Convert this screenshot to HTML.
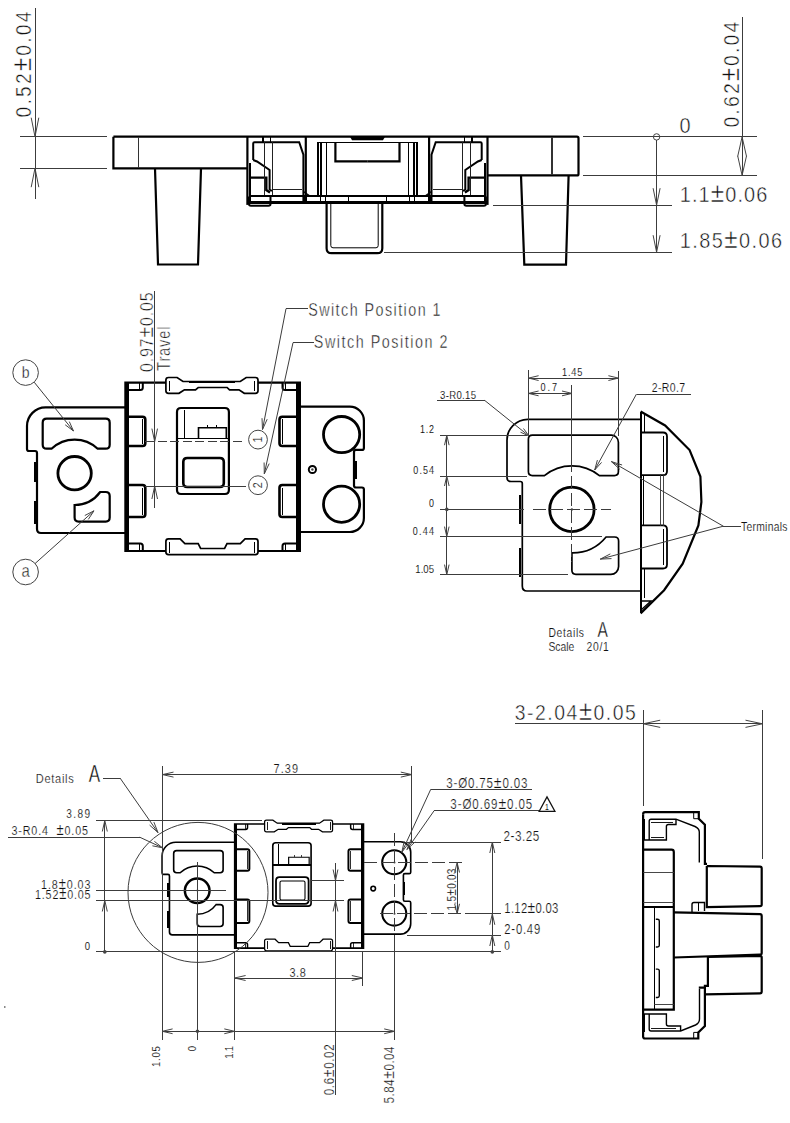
<!DOCTYPE html>
<html><head><meta charset="utf-8"><style>
html,body{margin:0;padding:0;background:#fff;}
svg{display:block;font-family:"Liberation Sans",sans-serif;}

</style></head><body>
<svg width="790" height="1123" viewBox="0 0 790 1123">
<rect width="790" height="1123" fill="#fff"/>
<line x1="35.0" y1="8.0" x2="35.0" y2="199.4" stroke="#3c3c3c" stroke-width="1" fill="none" shape-rendering="crispEdges"/>
<line x1="20.0" y1="136.7" x2="106.8" y2="136.7" stroke="#3c3c3c" stroke-width="1" fill="none" shape-rendering="crispEdges"/>
<line x1="20.0" y1="168.2" x2="106.8" y2="168.2" stroke="#3c3c3c" stroke-width="1" fill="none" shape-rendering="crispEdges"/>
<path d="M31.2,117.7 L35.0,136.7 L38.8,117.7" stroke="#444" stroke-width="1" fill="none"/>
<path d="M38.8,187.2 L35.0,168.2 L31.2,187.2" stroke="#444" stroke-width="1" fill="none"/>
<text transform="translate(31.3,117.5) rotate(-90) scale(0.85,1)" x="0" y="0" font-size="22.6" text-anchor="start" fill="#111" stroke="#fff" stroke-width="0.50" textLength="124.7" lengthAdjust="spacing">0.52<tspan font-size="27.6">±</tspan>0.04</text>
<path d="M113.4,136.7 H577 Q578.5,136.7 578.5,138.2 V173.9 Q578.5,175.4 577,175.4 H487.5" stroke="#000" stroke-width="2.2" fill="none"/>
<path d="M113.4,136.7 V168.4 H247.4" stroke="#000" stroke-width="2.2" fill="none"/>
<line x1="138.5" y1="136.7" x2="138.5" y2="168.4" stroke="#333" stroke-width="1.1" shape-rendering="crispEdges"/>
<line x1="552.0" y1="136.7" x2="552.0" y2="175.4" stroke="#333" stroke-width="1.1" shape-rendering="crispEdges"/>
<path d="M155,168.4 L158,264.5 H198 L201,168.4" stroke="#000" stroke-width="2.2" fill="none"/>
<path d="M521,175.4 L524.3,264.6 H566 L568.6,175.4" stroke="#000" stroke-width="2.2" fill="none"/>
<g>
<path d="M247.4,136.7 V204.9" stroke="#000" stroke-width="2.2" fill="none"/>
<line x1="250.0" y1="163.0" x2="250.0" y2="204.0" stroke="#000" stroke-width="1.4" shape-rendering="crispEdges"/>
<path d="M249,196.6 V204 Q249,205.8 251,205.8 H268.5 Q270.5,205.8 270.5,204 V196" stroke="#000" stroke-width="2" fill="none"/>
<path d="M253.2,160 V143.6 Q253.2,142.3 254.5,142.3 H299.2 L303.4,154.7 V202.4" stroke="#000" stroke-width="2" fill="none"/>
<path d="M253.2,160 L257,161.5 L269.6,170 V189.5 L272,191" stroke="#000" stroke-width="2" fill="none"/>
<path d="M249.9,177.6 H266.3 V190 L270,192.5" stroke="#000" stroke-width="2.4" fill="none"/>
<line x1="264.7" y1="142.3" x2="264.7" y2="195.8" stroke="#222" stroke-width="1" shape-rendering="crispEdges"/>
<line x1="272.0" y1="142.3" x2="272.0" y2="195.8" stroke="#222" stroke-width="1" shape-rendering="crispEdges"/>
<line x1="272.0" y1="189.2" x2="302.0" y2="189.2" stroke="#222" stroke-width="1" shape-rendering="crispEdges"/>
<path d="M305.8,137 V202.4" stroke="#000" stroke-width="2.2" fill="none"/>
<path d="M303.4,191.5 L309.5,195.8" stroke="#000" stroke-width="1.4" fill="none"/>
<line x1="318.2" y1="142.3" x2="318.2" y2="195.8" stroke="#000" stroke-width="1.8" shape-rendering="crispEdges"/>
<line x1="320.9" y1="142.3" x2="320.9" y2="195.8" stroke="#000" stroke-width="1.8" shape-rendering="crispEdges"/>
<line x1="326.4" y1="142.3" x2="326.4" y2="195.8" stroke="#000" stroke-width="1.8" shape-rendering="crispEdges"/>
<line x1="318.0" y1="142.3" x2="367.5" y2="142.3" stroke="#000" stroke-width="1.6" shape-rendering="crispEdges"/>
<path d="M335.4,142.3 V161.3 H367.5" stroke="#000" stroke-width="2.2" fill="none"/>
<line x1="250.0" y1="195.8" x2="250.0" y2="202.4" stroke="#000" stroke-width="1.2" shape-rendering="crispEdges"/>
<line x1="270.4" y1="195.8" x2="270.4" y2="202.4" stroke="#000" stroke-width="1.2" shape-rendering="crispEdges"/>
<line x1="304.2" y1="195.8" x2="304.2" y2="202.4" stroke="#000" stroke-width="1.2" shape-rendering="crispEdges"/>
<line x1="306.6" y1="195.8" x2="306.6" y2="202.4" stroke="#000" stroke-width="1.2" shape-rendering="crispEdges"/>
<line x1="320.6" y1="195.8" x2="320.6" y2="202.4" stroke="#000" stroke-width="1.2" shape-rendering="crispEdges"/>
<line x1="325.6" y1="195.8" x2="325.6" y2="202.4" stroke="#000" stroke-width="1.2" shape-rendering="crispEdges"/>
<line x1="348.6" y1="195.8" x2="348.6" y2="202.4" stroke="#000" stroke-width="1.2" shape-rendering="crispEdges"/>
<line x1="263.0" y1="137.0" x2="263.0" y2="142.3" stroke="#000" stroke-width="1.2" shape-rendering="crispEdges"/>
<line x1="270.4" y1="137.0" x2="270.4" y2="142.3" stroke="#000" stroke-width="1.2" shape-rendering="crispEdges"/>
</g><g transform="translate(734.9,0) scale(-1,1)">
<path d="M247.4,136.7 V204.9" stroke="#000" stroke-width="2.2" fill="none"/>
<line x1="250.0" y1="163.0" x2="250.0" y2="204.0" stroke="#000" stroke-width="1.4" shape-rendering="crispEdges"/>
<path d="M249,196.6 V204 Q249,205.8 251,205.8 H268.5 Q270.5,205.8 270.5,204 V196" stroke="#000" stroke-width="2" fill="none"/>
<path d="M253.2,160 V143.6 Q253.2,142.3 254.5,142.3 H299.2 L303.4,154.7 V202.4" stroke="#000" stroke-width="2" fill="none"/>
<path d="M253.2,160 L257,161.5 L269.6,170 V189.5 L272,191" stroke="#000" stroke-width="2" fill="none"/>
<path d="M249.9,177.6 H266.3 V190 L270,192.5" stroke="#000" stroke-width="2.4" fill="none"/>
<line x1="264.7" y1="142.3" x2="264.7" y2="195.8" stroke="#222" stroke-width="1" shape-rendering="crispEdges"/>
<line x1="272.0" y1="142.3" x2="272.0" y2="195.8" stroke="#222" stroke-width="1" shape-rendering="crispEdges"/>
<line x1="272.0" y1="189.2" x2="302.0" y2="189.2" stroke="#222" stroke-width="1" shape-rendering="crispEdges"/>
<path d="M305.8,137 V202.4" stroke="#000" stroke-width="2.2" fill="none"/>
<path d="M303.4,191.5 L309.5,195.8" stroke="#000" stroke-width="1.4" fill="none"/>
<line x1="318.2" y1="142.3" x2="318.2" y2="195.8" stroke="#000" stroke-width="1.8" shape-rendering="crispEdges"/>
<line x1="320.9" y1="142.3" x2="320.9" y2="195.8" stroke="#000" stroke-width="1.8" shape-rendering="crispEdges"/>
<line x1="326.4" y1="142.3" x2="326.4" y2="195.8" stroke="#000" stroke-width="1.8" shape-rendering="crispEdges"/>
<line x1="318.0" y1="142.3" x2="367.5" y2="142.3" stroke="#000" stroke-width="1.6" shape-rendering="crispEdges"/>
<path d="M335.4,142.3 V161.3 H367.5" stroke="#000" stroke-width="2.2" fill="none"/>
<line x1="250.0" y1="195.8" x2="250.0" y2="202.4" stroke="#000" stroke-width="1.2" shape-rendering="crispEdges"/>
<line x1="270.4" y1="195.8" x2="270.4" y2="202.4" stroke="#000" stroke-width="1.2" shape-rendering="crispEdges"/>
<line x1="304.2" y1="195.8" x2="304.2" y2="202.4" stroke="#000" stroke-width="1.2" shape-rendering="crispEdges"/>
<line x1="306.6" y1="195.8" x2="306.6" y2="202.4" stroke="#000" stroke-width="1.2" shape-rendering="crispEdges"/>
<line x1="320.6" y1="195.8" x2="320.6" y2="202.4" stroke="#000" stroke-width="1.2" shape-rendering="crispEdges"/>
<line x1="325.6" y1="195.8" x2="325.6" y2="202.4" stroke="#000" stroke-width="1.2" shape-rendering="crispEdges"/>
<line x1="348.6" y1="195.8" x2="348.6" y2="202.4" stroke="#000" stroke-width="1.2" shape-rendering="crispEdges"/>
<line x1="263.0" y1="137.0" x2="263.0" y2="142.3" stroke="#000" stroke-width="1.2" shape-rendering="crispEdges"/>
<line x1="270.4" y1="137.0" x2="270.4" y2="142.3" stroke="#000" stroke-width="1.2" shape-rendering="crispEdges"/>
</g>
<line x1="249.0" y1="195.8" x2="486.0" y2="195.8" stroke="#000" stroke-width="2" shape-rendering="crispEdges"/>
<line x1="247.4" y1="202.4" x2="487.5" y2="202.4" stroke="#000" stroke-width="2.2" shape-rendering="crispEdges"/>
<path d="M350,136.7 H385 L383,140.2 H352 Z" fill="#000"/>
<path d="M326.6,202.4 V248.2 Q326.6,253.2 331.6,253.2 H377.3 Q382.3,253.2 382.3,248.2 V202.4" stroke="#000" stroke-width="2.2" fill="none"/>
<path d="M330.8,203 V245.5 Q330.8,247.8 333,247.8 H376 Q378.2,247.8 378.2,245.5 V203" stroke="#000" stroke-width="1" fill="none"/>
<line x1="582.7" y1="136.9" x2="756.8" y2="136.9" stroke="#3c3c3c" stroke-width="1" fill="none" shape-rendering="crispEdges"/>
<line x1="582.7" y1="175.4" x2="756.8" y2="175.4" stroke="#3c3c3c" stroke-width="1" fill="none" shape-rendering="crispEdges"/>
<circle cx="656.6" cy="136.9" r="3.2" stroke="#444" stroke-width="1" fill="none"/>
<line x1="656.6" y1="140.1" x2="656.6" y2="252.0" stroke="#3c3c3c" stroke-width="1" fill="none" shape-rendering="crispEdges"/>
<line x1="492.7" y1="205.2" x2="671.7" y2="205.2" stroke="#3c3c3c" stroke-width="1" fill="none" shape-rendering="crispEdges"/>
<line x1="384.0" y1="252.2" x2="671.7" y2="252.2" stroke="#3c3c3c" stroke-width="1" fill="none" shape-rendering="crispEdges"/>
<path d="M653.1,188.2 L656.6,205.2 L660.1,188.2" stroke="#444" stroke-width="1" fill="none"/>
<path d="M653.1,235.2 L656.6,252.2 L660.1,235.2" stroke="#444" stroke-width="1" fill="none"/>
<line x1="742.1" y1="17.3" x2="742.1" y2="175.4" stroke="#3c3c3c" stroke-width="1" fill="none" shape-rendering="crispEdges"/>
<path d="M746.5,156.4 L742.1,136.9 L737.7,156.4" stroke="#444" stroke-width="1" fill="none"/>
<path d="M737.7,155.9 L742.1,175.4 L746.5,155.9" stroke="#444" stroke-width="1" fill="none"/>
<text transform="translate(738.6,127.6) rotate(-90) scale(0.85,1)" x="0" y="0" font-size="22.9" text-anchor="start" fill="#111" stroke="#fff" stroke-width="0.50" textLength="124.7" lengthAdjust="spacing">0.62<tspan font-size="27.9">±</tspan>0.04</text>
<text transform="translate(679.5,132.6) scale(0.87,1)" x="0" y="0" font-size="22.9" text-anchor="start" fill="#111" stroke="#fff" stroke-width="0.50">0</text>
<text transform="translate(679.7,202.0) scale(0.87,1)" x="0" y="0" font-size="22.9" text-anchor="start" fill="#111" stroke="#fff" stroke-width="0.50" textLength="100.8" lengthAdjust="spacing">1.1<tspan font-size="27.9">±</tspan>0.06</text>
<text transform="translate(679.7,248.4) scale(0.87,1)" x="0" y="0" font-size="22.9" text-anchor="start" fill="#111" stroke="#fff" stroke-width="0.50" textLength="117.6" lengthAdjust="spacing">1.85<tspan font-size="27.9">±</tspan>0.06</text>
<g>
<path d="M125.4,407.4 H45.6 A18.6,18.6 0 0 0 27,426 V449 Q27,451 29,451 H35 Q37,451 37,453 V529 Q37,533 41,533 H125.4" stroke="#000" stroke-width="2.2" fill="none"/>
<line x1="35.6" y1="462.3" x2="35.6" y2="482.3" stroke="#000" stroke-width="2.6" shape-rendering="crispEdges"/>
<line x1="35.6" y1="500.8" x2="35.6" y2="523.6" stroke="#000" stroke-width="2.6" shape-rendering="crispEdges"/>
<path d="M46.7,418.7 H105.7 Q109.7,418.7 109.7,422.7 V444.7 Q109.7,448.7 105.7,448.7 H97.7 A33.7,33.7 0 0 0 51.5,448.7 H46.7 Q42.7,448.7 42.7,444.7 V422.7 Q42.7,418.7 46.7,418.7 Z" stroke="#000" stroke-width="2.2" fill="none"/>
<path d="M74.6,505 A31.8,31.8 0 0 0 100.2,492 H105.7 Q109.7,492 109.7,496 V517.6 Q109.7,521.6 105.7,521.6 H78.6 Q74.6,521.6 74.6,517.6 Z" stroke="#000" stroke-width="2.2" fill="none"/>
<circle cx="74.6" cy="473.2" r="16.7" stroke="#000" stroke-width="2.8" fill="none"/>
<path d="M125.4,382.6 H299.9 V551 H125.4 Z" stroke="#000" stroke-width="2.2" fill="none"/>
<line x1="127.3" y1="382.6" x2="127.3" y2="551.0" stroke="#000" stroke-width="3.6" shape-rendering="crispEdges"/>
<line x1="298.1" y1="382.6" x2="298.1" y2="551.0" stroke="#000" stroke-width="3.6" shape-rendering="crispEdges"/>
<path d="M125.4,390.0 H140.3 Q142.8,390.0 142.8,387.5 V382.6" stroke="#000" stroke-width="2" fill="none"/>
<line x1="139.4" y1="382.6" x2="139.4" y2="390.0" stroke="#000" stroke-width="1.1" shape-rendering="crispEdges"/>
<path d="M299.9,390.0 H285.0 Q282.5,390.0 282.5,387.5 V382.6" stroke="#000" stroke-width="2" fill="none"/>
<line x1="285.9" y1="382.6" x2="285.9" y2="390.0" stroke="#000" stroke-width="1.1" shape-rendering="crispEdges"/>
<path d="M125.4,543.6 H140.3 Q142.8,543.6 142.8,546.1 V551" stroke="#000" stroke-width="2" fill="none"/>
<line x1="139.4" y1="551.0" x2="139.4" y2="543.6" stroke="#000" stroke-width="1.1" shape-rendering="crispEdges"/>
<path d="M299.9,543.6 H285.0 Q282.5,543.6 282.5,546.1 V551" stroke="#000" stroke-width="2" fill="none"/>
<line x1="285.9" y1="551.0" x2="285.9" y2="543.6" stroke="#000" stroke-width="1.1" shape-rendering="crispEdges"/>
<path d="M177.1,377.5 H168.5 Q165.9,377.5 165.9,380 V390.8 Q165.9,393.3 168.5,393.3 H179 L184.4,389.8 H195.5 L198.2,387.5 H227.1 L229.5,389.8 H239 L244.3,393.3 H255.4 Q258,393.3 258,390.8 V380 Q258,377.5 255.4,377.5 H246.2 L240.3,381.5 H183 Z" stroke="#000" stroke-width="1.7" fill="#fff"/>
<line x1="169.4" y1="380.5" x2="169.4" y2="390.5" stroke="#000" stroke-width="1.2" shape-rendering="crispEdges"/>
<line x1="254.6" y1="380.5" x2="254.6" y2="390.5" stroke="#000" stroke-width="1.2" shape-rendering="crispEdges"/>
<line x1="189.0" y1="382.2" x2="235.0" y2="382.2" stroke="#000" stroke-width="2.4" shape-rendering="crispEdges"/>
<path d="M168.5,538.9 H180.1 L184.9,543.7 H198.2 L200.6,548.5 H224.6 L227,543.7 H240.3 L245.1,538.9 H255.5 Q258,538.9 258,541.5 V552 Q258,554.6 255.5,554.6 H168.5 Q165.9,554.6 165.9,552 V541.5 Q165.9,538.9 168.5,538.9 Z" stroke="#000" stroke-width="1.7" fill="#fff"/>
<line x1="169.4" y1="541.5" x2="169.4" y2="552.5" stroke="#000" stroke-width="1.2" shape-rendering="crispEdges"/>
<line x1="254.6" y1="541.5" x2="254.6" y2="552.5" stroke="#000" stroke-width="1.2" shape-rendering="crispEdges"/>
<path d="M125.4,416.8 H142.5 Q145.3,416.8 145.3,419.6 V443.2 Q145.3,446 142.5,446 H125.4" stroke="#000" stroke-width="2.6" fill="none"/>
<line x1="142.2" y1="419.3" x2="142.2" y2="443.5" stroke="#000" stroke-width="1.1" shape-rendering="crispEdges"/>
<path d="M299.9,416.8 H282.3 Q279.5,416.8 279.5,419.6 V443.2 Q279.5,446 282.3,446 H299.9" stroke="#000" stroke-width="2.6" fill="none"/>
<line x1="282.6" y1="419.3" x2="282.6" y2="443.5" stroke="#000" stroke-width="1.1" shape-rendering="crispEdges"/>
<path d="M125.4,485 H142.5 Q145.3,485 145.3,487.8 V514.2 Q145.3,517 142.5,517 H125.4" stroke="#000" stroke-width="2.6" fill="none"/>
<line x1="142.2" y1="487.5" x2="142.2" y2="514.5" stroke="#000" stroke-width="1.1" shape-rendering="crispEdges"/>
<path d="M299.9,485 H282.3 Q279.5,485 279.5,487.8 V514.2 Q279.5,517 282.3,517 H299.9" stroke="#000" stroke-width="2.6" fill="none"/>
<line x1="282.6" y1="487.5" x2="282.6" y2="514.5" stroke="#000" stroke-width="1.1" shape-rendering="crispEdges"/>
<path d="M181,408 H224.9 Q228.9,408 228.9,412 V490 Q228.9,494 224.9,494 H181 Q177,494 177,490 V412 Q177,408 181,408 Z" stroke="#000" stroke-width="2.2" fill="none"/>
<line x1="184.6" y1="410.0" x2="184.6" y2="438.4" stroke="#000" stroke-width="1.6" shape-rendering="crispEdges"/>
<path d="M198.5,438.4 V427.7 H226.3 V438.4" stroke="#000" stroke-width="1.6" fill="none"/>
<line x1="207.0" y1="424.5" x2="207.0" y2="427.7" stroke="#000" stroke-width="1" shape-rendering="crispEdges"/>
<line x1="216.0" y1="424.5" x2="216.0" y2="427.7" stroke="#000" stroke-width="1" shape-rendering="crispEdges"/>
<line x1="177.0" y1="438.4" x2="228.9" y2="438.4" stroke="#000" stroke-width="1.8" shape-rendering="crispEdges"/>
<path d="M299.9,406.7 H349.9 A14,14 0 0 1 363.9,420.7 V447.9 Q363.9,449.9 361.9,449.9 H356 Q354,449.9 354,451.9 V485.5 Q354,487.5 356,487.5 H361.9 Q363.9,487.5 363.9,489.5 V518 A14,14 0 0 1 349.9,532 H299.9" stroke="#000" stroke-width="2.2" fill="none"/>
<line x1="355.6" y1="461.0" x2="355.6" y2="479.0" stroke="#000" stroke-width="2.4" shape-rendering="crispEdges"/>
<circle cx="341.6" cy="434.6" r="18.1" stroke="#000" stroke-width="2.8" fill="none"/>
<circle cx="341.6" cy="504.2" r="18.1" stroke="#000" stroke-width="2.8" fill="none"/>
</g>
<path d="M187.3,458 H219.8 Q223.8,458 223.8,462 V483 Q223.8,487 219.8,487 H187.3 Q183.3,487 183.3,483 V462 Q183.3,458 187.3,458 Z" stroke="#000" stroke-width="2.6" fill="none"/>
<circle cx="312.4" cy="469.5" r="3.6" stroke="#000" stroke-width="2" fill="none"/>
<circle cx="312.4" cy="469.5" r="1.2" fill="#444"/>
<g transform="translate(234.7,824) scale(0.738,0.737) translate(-125.4,-382.6)">
<path d="M125.4,407.4 H45.6 A18.6,18.6 0 0 0 27,426 V449 Q27,451 29,451 H35 Q37,451 37,453 V529 Q37,533 41,533 H125.4" stroke="#000" stroke-width="2.2" fill="none"/>
<line x1="35.6" y1="462.3" x2="35.6" y2="482.3" stroke="#000" stroke-width="2.6" shape-rendering="crispEdges"/>
<line x1="35.6" y1="500.8" x2="35.6" y2="523.6" stroke="#000" stroke-width="2.6" shape-rendering="crispEdges"/>
<path d="M46.7,418.7 H105.7 Q109.7,418.7 109.7,422.7 V444.7 Q109.7,448.7 105.7,448.7 H97.7 A33.7,33.7 0 0 0 51.5,448.7 H46.7 Q42.7,448.7 42.7,444.7 V422.7 Q42.7,418.7 46.7,418.7 Z" stroke="#000" stroke-width="2.2" fill="none"/>
<path d="M74.6,505 A31.8,31.8 0 0 0 100.2,492 H105.7 Q109.7,492 109.7,496 V517.6 Q109.7,521.6 105.7,521.6 H78.6 Q74.6,521.6 74.6,517.6 Z" stroke="#000" stroke-width="2.2" fill="none"/>
<circle cx="74.6" cy="473.2" r="16.7" stroke="#000" stroke-width="3.4" fill="none"/>
<path d="M125.4,382.6 H299.9 V551 H125.4 Z" stroke="#000" stroke-width="2.2" fill="none"/>
<line x1="127.3" y1="382.6" x2="127.3" y2="551.0" stroke="#000" stroke-width="3.6" shape-rendering="crispEdges"/>
<line x1="298.1" y1="382.6" x2="298.1" y2="551.0" stroke="#000" stroke-width="3.6" shape-rendering="crispEdges"/>
<path d="M125.4,390.0 H140.3 Q142.8,390.0 142.8,387.5 V382.6" stroke="#000" stroke-width="2" fill="none"/>
<line x1="139.4" y1="382.6" x2="139.4" y2="390.0" stroke="#000" stroke-width="1.1" shape-rendering="crispEdges"/>
<path d="M299.9,390.0 H285.0 Q282.5,390.0 282.5,387.5 V382.6" stroke="#000" stroke-width="2" fill="none"/>
<line x1="285.9" y1="382.6" x2="285.9" y2="390.0" stroke="#000" stroke-width="1.1" shape-rendering="crispEdges"/>
<path d="M125.4,543.6 H140.3 Q142.8,543.6 142.8,546.1 V551" stroke="#000" stroke-width="2" fill="none"/>
<line x1="139.4" y1="551.0" x2="139.4" y2="543.6" stroke="#000" stroke-width="1.1" shape-rendering="crispEdges"/>
<path d="M299.9,543.6 H285.0 Q282.5,543.6 282.5,546.1 V551" stroke="#000" stroke-width="2" fill="none"/>
<line x1="285.9" y1="551.0" x2="285.9" y2="543.6" stroke="#000" stroke-width="1.1" shape-rendering="crispEdges"/>
<path d="M177.1,377.5 H168.5 Q165.9,377.5 165.9,380 V390.8 Q165.9,393.3 168.5,393.3 H179 L184.4,389.8 H195.5 L198.2,387.5 H227.1 L229.5,389.8 H239 L244.3,393.3 H255.4 Q258,393.3 258,390.8 V380 Q258,377.5 255.4,377.5 H246.2 L240.3,381.5 H183 Z" stroke="#000" stroke-width="1.7" fill="#fff"/>
<line x1="169.4" y1="380.5" x2="169.4" y2="390.5" stroke="#000" stroke-width="1.2" shape-rendering="crispEdges"/>
<line x1="254.6" y1="380.5" x2="254.6" y2="390.5" stroke="#000" stroke-width="1.2" shape-rendering="crispEdges"/>
<line x1="189.0" y1="382.2" x2="235.0" y2="382.2" stroke="#000" stroke-width="2.4" shape-rendering="crispEdges"/>
<path d="M168.5,538.9 H180.1 L184.9,543.7 H198.2 L200.6,548.5 H224.6 L227,543.7 H240.3 L245.1,538.9 H255.5 Q258,538.9 258,541.5 V552 Q258,554.6 255.5,554.6 H168.5 Q165.9,554.6 165.9,552 V541.5 Q165.9,538.9 168.5,538.9 Z" stroke="#000" stroke-width="1.7" fill="#fff"/>
<line x1="169.4" y1="541.5" x2="169.4" y2="552.5" stroke="#000" stroke-width="1.2" shape-rendering="crispEdges"/>
<line x1="254.6" y1="541.5" x2="254.6" y2="552.5" stroke="#000" stroke-width="1.2" shape-rendering="crispEdges"/>
<path d="M125.4,416.8 H142.5 Q145.3,416.8 145.3,419.6 V443.2 Q145.3,446 142.5,446 H125.4" stroke="#000" stroke-width="2.6" fill="none"/>
<line x1="142.2" y1="419.3" x2="142.2" y2="443.5" stroke="#000" stroke-width="1.1" shape-rendering="crispEdges"/>
<path d="M299.9,416.8 H282.3 Q279.5,416.8 279.5,419.6 V443.2 Q279.5,446 282.3,446 H299.9" stroke="#000" stroke-width="2.6" fill="none"/>
<line x1="282.6" y1="419.3" x2="282.6" y2="443.5" stroke="#000" stroke-width="1.1" shape-rendering="crispEdges"/>
<path d="M125.4,485 H142.5 Q145.3,485 145.3,487.8 V514.2 Q145.3,517 142.5,517 H125.4" stroke="#000" stroke-width="2.6" fill="none"/>
<line x1="142.2" y1="487.5" x2="142.2" y2="514.5" stroke="#000" stroke-width="1.1" shape-rendering="crispEdges"/>
<path d="M299.9,485 H282.3 Q279.5,485 279.5,487.8 V514.2 Q279.5,517 282.3,517 H299.9" stroke="#000" stroke-width="2.6" fill="none"/>
<line x1="282.6" y1="487.5" x2="282.6" y2="514.5" stroke="#000" stroke-width="1.1" shape-rendering="crispEdges"/>
<path d="M181,408 H224.9 Q228.9,408 228.9,412 V490 Q228.9,494 224.9,494 H181 Q177,494 177,490 V412 Q177,408 181,408 Z" stroke="#000" stroke-width="2.2" fill="none"/>
<line x1="184.6" y1="410.0" x2="184.6" y2="438.4" stroke="#000" stroke-width="1.6" shape-rendering="crispEdges"/>
<path d="M198.5,438.4 V427.7 H226.3 V438.4" stroke="#000" stroke-width="1.6" fill="none"/>
<line x1="207.0" y1="424.5" x2="207.0" y2="427.7" stroke="#000" stroke-width="1" shape-rendering="crispEdges"/>
<line x1="216.0" y1="424.5" x2="216.0" y2="427.7" stroke="#000" stroke-width="1" shape-rendering="crispEdges"/>
<line x1="177.0" y1="438.4" x2="228.9" y2="438.4" stroke="#000" stroke-width="1.8" shape-rendering="crispEdges"/>
<path d="M299.9,406.7 H349.9 A14,14 0 0 1 363.9,420.7 V447.9 Q363.9,449.9 361.9,449.9 H356 Q354,449.9 354,451.9 V485.5 Q354,487.5 356,487.5 H361.9 Q363.9,487.5 363.9,489.5 V518 A14,14 0 0 1 349.9,532 H299.9" stroke="#000" stroke-width="2.2" fill="none"/>
<line x1="355.6" y1="461.0" x2="355.6" y2="479.0" stroke="#000" stroke-width="2.4" shape-rendering="crispEdges"/>
<circle cx="341.6" cy="434.6" r="16.3" stroke="#000" stroke-width="2.8" fill="none"/>
<circle cx="341.6" cy="504.2" r="16.3" stroke="#000" stroke-width="2.8" fill="none"/>
</g>
<circle cx="25.6" cy="372.6" r="12.8" stroke="#444" stroke-width="1" fill="none"/>
<text transform="translate(25.6,377.6) scale(0.9,1)" x="0" y="0" font-size="15.6" text-anchor="middle" fill="#111" stroke="#fff" stroke-width="0.31">b</text>
<line x1="34.2" y1="382.2" x2="73.5" y2="431.0" stroke="#3c3c3c" stroke-width="1" fill="none"/>
<path d="M65.2,424.8 L73.5,431.0 L69.3,421.6" stroke="#444" stroke-width="1" fill="none"/>
<circle cx="25.6" cy="572.0" r="12.8" stroke="#444" stroke-width="1" fill="none"/>
<text transform="translate(25.6,577.3) scale(0.85,1)" x="0" y="0" font-size="17.5" text-anchor="middle" fill="#111" stroke="#fff" stroke-width="0.41">a</text>
<line x1="35.1" y1="563.5" x2="94.0" y2="510.8" stroke="#3c3c3c" stroke-width="1" fill="none"/>
<path d="M88.3,519.4 L94.0,510.8 L84.8,515.5" stroke="#444" stroke-width="1" fill="none"/>
<line x1="154.7" y1="291.4" x2="154.7" y2="508.0" stroke="#3c3c3c" stroke-width="1" fill="none" shape-rendering="crispEdges"/>
<path d="M151.9,428.6 L154.7,441.6 L157.5,428.6" stroke="#444" stroke-width="1" fill="none"/>
<path d="M157.5,499.0 L154.7,486.0 L151.9,499.0" stroke="#444" stroke-width="1" fill="none"/>
<text transform="translate(152.6,371.9) rotate(-90) scale(0.85,1)" x="0" y="0" font-size="18.7" text-anchor="start" fill="#111" stroke="#fff" stroke-width="0.48" textLength="93.6" lengthAdjust="spacing">0.97<tspan font-size="22.8">±</tspan>0.05</text>
<text transform="translate(169.9,370.8) rotate(-90) scale(0.82,1)" x="0" y="0" font-size="17.9" text-anchor="start" fill="#111" stroke="#fff" stroke-width="0.43" textLength="54.0" lengthAdjust="spacing">Travel</text>
<line x1="145" y1="441.5" x2="244" y2="441.5" stroke="#3c3c3c" stroke-width="1" stroke-dasharray="9 3.5" shape-rendering="crispEdges"/>
<line x1="145.0" y1="486.0" x2="246.0" y2="486.0" stroke="#3c3c3c" stroke-width="1" fill="none" shape-rendering="crispEdges"/>
<circle cx="258.0" cy="439.6" r="9.4" stroke="#444" stroke-width="1" fill="none"/>
<text transform="translate(261.5,439.6) rotate(-90) scale(0.82,1)" x="0" y="0" font-size="13.1" text-anchor="middle" fill="#111" stroke="#fff" stroke-width="0.17">1</text>
<circle cx="258.0" cy="485.2" r="9.4" stroke="#444" stroke-width="1" fill="none"/>
<text transform="translate(261.5,485.2) rotate(-90) scale(0.82,1)" x="0" y="0" font-size="13.1" text-anchor="middle" fill="#111" stroke="#fff" stroke-width="0.17">2</text>
<line x1="286.0" y1="308.7" x2="308.0" y2="308.7" stroke="#3c3c3c" stroke-width="1" fill="none" shape-rendering="crispEdges"/>
<line x1="286.0" y1="308.7" x2="262.5" y2="429.5" stroke="#3c3c3c" stroke-width="1" fill="none"/>
<path d="M262.0,418.2 L262.5,429.5 L267.2,419.2" stroke="#444" stroke-width="1" fill="none"/>
<line x1="293.0" y1="342.7" x2="313.8" y2="342.7" stroke="#3c3c3c" stroke-width="1" fill="none" shape-rendering="crispEdges"/>
<line x1="293.0" y1="342.7" x2="264.3" y2="473.8" stroke="#3c3c3c" stroke-width="1" fill="none"/>
<path d="M264.1,462.5 L264.3,473.8 L269.2,463.6" stroke="#444" stroke-width="1" fill="none"/>
<text transform="translate(308.2,316.2) scale(0.82,1)" x="0" y="0" font-size="17.5" text-anchor="start" fill="#111" stroke="#fff" stroke-width="0.41" textLength="161.3" lengthAdjust="spacing">Switch Position 1</text>
<text transform="translate(313.8,348.2) scale(0.82,1)" x="0" y="0" font-size="17.5" text-anchor="start" fill="#111" stroke="#fff" stroke-width="0.41" textLength="163.0" lengthAdjust="spacing">Switch Position 2</text>
<path d="M640.6,591 H527 Q522.3,591 522.3,586 V483.5 Q522.3,481.5 520.3,481.5 H511 Q507,481.5 507,477.5 V440.8 A21,21 0 0 1 527.8,419.3 H640.6" stroke="#000" stroke-width="1.7" fill="none"/>
<line x1="520.0" y1="495.0" x2="520.0" y2="524.3" stroke="#000" stroke-width="2.4" shape-rendering="crispEdges"/>
<line x1="520.0" y1="548.0" x2="520.0" y2="577.2" stroke="#000" stroke-width="2.4" shape-rendering="crispEdges"/>
<path d="M532.4,435.2 H611.4 A7,7 0 0 1 618.4,442.2 V471.6 Q618.4,475.6 614.4,475.6 H599.4 A43.6,43.6 0 0 0 544.4,475.6 H532.4 Q528.4,475.6 528.4,471.6 V439.2 Q528.4,435.2 532.4,435.2 Z" stroke="#000" stroke-width="1.7" fill="none"/>
<path d="M571.9,552.9 A43.5,43.5 0 0 0 606.1,537 H614.6 Q618.6,537 618.6,541 V566.6 A7.7,7.7 0 0 1 610.9,574.3 H575.9 Q571.9,574.3 571.9,570.3 Z" stroke="#000" stroke-width="1.7" fill="none"/>
<circle cx="571.9" cy="509.4" r="22.2" stroke="#000" stroke-width="2.8" fill="none"/>
<line x1="640.6" y1="411.5" x2="640.6" y2="613.4" stroke="#000" stroke-width="2" shape-rendering="crispEdges"/>
<path d="M640.6,411.5 L665.1,425.5 L689.6,450 L700.4,476.5 L701.4,502 L698.4,525.5 L682.7,563.7 L664.1,590.2 L640.6,613.4" stroke="#000" stroke-width="2.2" fill="none"/>
<path d="M641.5,432.5 H663 Q667,432.5 667,436.5 V471.2 Q667,475.2 663,475.2 H641.5" stroke="#000" stroke-width="1.8" fill="none"/>
<line x1="663.6" y1="436.0" x2="663.6" y2="472.0" stroke="#000" stroke-width="1" shape-rendering="crispEdges"/>
<path d="M641.5,525.4 H663 Q667,525.4 667,529.4 V564.5 Q667,568.5 663,568.5 H641.5" stroke="#000" stroke-width="1.8" fill="none"/>
<line x1="663.6" y1="529.0" x2="663.6" y2="565.0" stroke="#000" stroke-width="1" shape-rendering="crispEdges"/>
<line x1="643.3" y1="475.2" x2="643.3" y2="525.4" stroke="#000" stroke-width="1" shape-rendering="crispEdges"/>
<line x1="660.0" y1="474.2" x2="660.0" y2="525.7" stroke="#333" stroke-width="0.9" shape-rendering="crispEdges"/>
<line x1="663.0" y1="474.2" x2="663.0" y2="525.7" stroke="#333" stroke-width="0.9" shape-rendering="crispEdges"/>
<line x1="644.8" y1="414.0" x2="644.8" y2="433.0" stroke="#000" stroke-width="1.2" shape-rendering="crispEdges"/>
<line x1="644.8" y1="567.5" x2="644.8" y2="598.0" stroke="#000" stroke-width="1.2" shape-rendering="crispEdges"/>
<path d="M641,601 H651 L641,610" stroke="#000" stroke-width="1.4" fill="none"/>
<line x1="571.9" y1="385.3" x2="571.9" y2="472.0" stroke="#3c3c3c" stroke-width="1" fill="none" shape-rendering="crispEdges"/>
<line x1="571.9" y1="476" x2="571.9" y2="562" stroke="#3c3c3c" stroke-width="1" stroke-dasharray="13 4" shape-rendering="crispEdges"/>
<line x1="440.0" y1="509.4" x2="524.0" y2="509.4" stroke="#3c3c3c" stroke-width="1" fill="none" shape-rendering="crispEdges"/>
<line x1="533" y1="509.4" x2="611.4" y2="509.4" stroke="#3c3c3c" stroke-width="1" stroke-dasharray="13 4" shape-rendering="crispEdges"/>
<circle cx="571.9" cy="509.4" r="1.2" fill="#444"/>
<line x1="528.6" y1="370.0" x2="528.6" y2="436.0" stroke="#3c3c3c" stroke-width="1" fill="none" shape-rendering="crispEdges"/>
<line x1="618.4" y1="371.0" x2="618.4" y2="436.0" stroke="#3c3c3c" stroke-width="1" fill="none" shape-rendering="crispEdges"/>
<line x1="528.6" y1="378.1" x2="618.4" y2="378.1" stroke="#3c3c3c" stroke-width="1" fill="none" shape-rendering="crispEdges"/>
<path d="M538.6,375.7 L528.6,378.1 L538.6,380.5" stroke="#444" stroke-width="1" fill="none"/>
<path d="M608.4,380.5 L618.4,378.1 L608.4,375.7" stroke="#444" stroke-width="1" fill="none"/>
<line x1="528.6" y1="393.4" x2="572.0" y2="393.4" stroke="#3c3c3c" stroke-width="1" fill="none" shape-rendering="crispEdges"/>
<path d="M538.6,391.0 L528.6,393.4 L538.6,395.8" stroke="#444" stroke-width="1" fill="none"/>
<path d="M562.0,395.8 L572.0,393.4 L562.0,391.0" stroke="#444" stroke-width="1" fill="none"/>
<text transform="translate(572.2,375.8) scale(0.82,1)" x="0" y="0" font-size="11.2" text-anchor="middle" fill="#111" stroke="#fff" stroke-width="0.07" textLength="24.8" lengthAdjust="spacing">1.45</text>
<text transform="translate(548.8,391.0) scale(0.82,1)" x="0" y="0" font-size="11.1" text-anchor="middle" fill="#111" stroke="#fff" stroke-width="0.06" textLength="20.1" lengthAdjust="spacing">0.7</text>
<text transform="translate(440.0,399.2) scale(0.82,1)" x="0" y="0" font-size="11.7" text-anchor="start" fill="#111" stroke="#fff" stroke-width="0.09" textLength="43.9" lengthAdjust="spacing">3-R0.15</text>
<line x1="436.7" y1="400.5" x2="484.8" y2="400.5" stroke="#3c3c3c" stroke-width="1" fill="none" shape-rendering="crispEdges"/>
<line x1="484.8" y1="400.5" x2="529.0" y2="436.0" stroke="#3c3c3c" stroke-width="1" fill="none"/>
<path d="M520.5,432.2 L529.0,436.0 L523.5,428.5" stroke="#444" stroke-width="1" fill="none"/>
<text transform="translate(651.8,392.0) scale(0.82,1)" x="0" y="0" font-size="12.8" text-anchor="start" fill="#111" stroke="#fff" stroke-width="0.15" textLength="40.7" lengthAdjust="spacing">2-R0.7</text>
<line x1="636.5" y1="394.0" x2="690.8" y2="394.0" stroke="#3c3c3c" stroke-width="1" fill="none" shape-rendering="crispEdges"/>
<line x1="636.5" y1="394.0" x2="594.7" y2="470.0" stroke="#3c3c3c" stroke-width="1" fill="none"/>
<path d="M597.4,460.1 L594.7,470.0 L601.6,462.4" stroke="#444" stroke-width="1" fill="none"/>
<line x1="440.0" y1="435.2" x2="526.6" y2="435.2" stroke="#3c3c3c" stroke-width="1" fill="none" shape-rendering="crispEdges"/>
<line x1="440.0" y1="476.0" x2="527.0" y2="476.0" stroke="#3c3c3c" stroke-width="1" fill="none" shape-rendering="crispEdges"/>
<line x1="440.0" y1="536.6" x2="602.0" y2="536.6" stroke="#3c3c3c" stroke-width="1" fill="none" shape-rendering="crispEdges"/>
<line x1="440.0" y1="574.6" x2="568.4" y2="574.6" stroke="#3c3c3c" stroke-width="1" fill="none" shape-rendering="crispEdges"/>
<line x1="446.8" y1="435.2" x2="446.8" y2="574.6" stroke="#3c3c3c" stroke-width="1" fill="none" shape-rendering="crispEdges"/>
<path d="M449.1,445.2 L446.8,435.2 L444.5,445.2" stroke="#444" stroke-width="1" fill="none"/>
<path d="M449.1,486.0 L446.8,476.0 L444.5,486.0" stroke="#444" stroke-width="1" fill="none"/>
<path d="M444.5,526.6 L446.8,536.6 L449.1,526.6" stroke="#444" stroke-width="1" fill="none"/>
<path d="M444.5,564.6 L446.8,574.6 L449.1,564.6" stroke="#444" stroke-width="1" fill="none"/>
<circle cx="446.8" cy="509.4" r="1.8" fill="#444"/>
<text transform="translate(434.0,433.4) scale(0.82,1)" x="0" y="0" font-size="10.9" text-anchor="end" fill="#111" stroke="#fff" stroke-width="0.05" textLength="17.1" lengthAdjust="spacing">1.2</text>
<text transform="translate(434.0,474.4) scale(0.82,1)" x="0" y="0" font-size="10.9" text-anchor="end" fill="#111" stroke="#fff" stroke-width="0.05" textLength="25.2" lengthAdjust="spacing">0.54</text>
<text transform="translate(434.0,507.3) scale(0.82,1)" x="0" y="0" font-size="10.9" text-anchor="end" fill="#111" stroke="#fff" stroke-width="0.05">0</text>
<text transform="translate(434.0,535.3) scale(0.82,1)" x="0" y="0" font-size="10.9" text-anchor="end" fill="#111" stroke="#fff" stroke-width="0.05" textLength="25.9" lengthAdjust="spacing">0.44</text>
<text transform="translate(434.0,572.8) scale(0.82,1)" x="0" y="0" font-size="11.7" text-anchor="end" fill="#111" stroke="#fff" stroke-width="0.09" textLength="22.8" lengthAdjust="spacing">1.05</text>
<line x1="723.3" y1="526.2" x2="740.6" y2="526.2" stroke="#3c3c3c" stroke-width="1" fill="none" shape-rendering="crispEdges"/>
<line x1="723.3" y1="526.2" x2="611.4" y2="461.6" stroke="#3c3c3c" stroke-width="1" fill="none"/>
<path d="M622.1,465.0 L611.4,461.6 L619.7,469.2" stroke="#444" stroke-width="1" fill="none"/>
<line x1="723.3" y1="526.2" x2="600.3" y2="559.1" stroke="#3c3c3c" stroke-width="1" fill="none"/>
<path d="M610.3,553.9 L600.3,559.1 L611.5,558.6" stroke="#444" stroke-width="1" fill="none"/>
<text transform="translate(741.0,530.6) scale(0.82,1)" x="0" y="0" font-size="12.6" text-anchor="start" fill="#111" stroke="#fff" stroke-width="0.14" textLength="56.7" lengthAdjust="spacing">Terminals</text>
<text transform="translate(548.5,636.6) scale(0.82,1)" x="0" y="0" font-size="12.6" text-anchor="start" fill="#111" stroke="#fff" stroke-width="0.14" textLength="43.3" lengthAdjust="spacing">Details</text>
<text transform="translate(597.4,637.2) scale(0.72,1)" x="0" y="0" font-size="21.6" text-anchor="start" fill="#111" stroke="#fff" stroke-width="0.30">A</text>
<text transform="translate(548.5,650.5) scale(0.82,1)" x="0" y="0" font-size="12.6" text-anchor="start" fill="#111" stroke="#fff" stroke-width="0.14" textLength="31.3" lengthAdjust="spacing">Scale</text>
<text transform="translate(586.6,650.5) scale(0.82,1)" x="0" y="0" font-size="12.6" text-anchor="start" fill="#111" stroke="#fff" stroke-width="0.14" textLength="27.1" lengthAdjust="spacing">20/1</text>
<path d="M279.5,877.2 H305.1 Q308.6,877.2 308.6,880.7 V900.3 Q308.6,903.8 305.1,903.8 H279.5 Q276,903.8 276,900.3 V880.7 Q276,877.2 279.5,877.2 Z" stroke="#000" stroke-width="1.8" fill="none"/>
<path d="M281.5,881 H303.5 Q305,881 305,882.5 V898.5 Q305,900 303.5,900 H281.5 Q280,900 280,898.5 V882.5 Q280,881 281.5,881 Z" stroke="#000" stroke-width="1.1" fill="none"/>
<circle cx="373.2" cy="888.6" r="2.3" stroke="#000" stroke-width="1.6" fill="none"/>
<circle cx="198.0" cy="892.4" r="70.0" stroke="#3c3c3c" stroke-width="1" fill="none"/>
<text transform="translate(35.8,782.5) scale(0.82,1)" x="0" y="0" font-size="13.5" text-anchor="start" fill="#111" stroke="#fff" stroke-width="0.20" textLength="46.3" lengthAdjust="spacing">Details</text>
<text transform="translate(88.7,781.9) scale(0.72,1)" x="0" y="0" font-size="23.7" text-anchor="start" fill="#111" stroke="#fff" stroke-width="0.30">A</text>
<line x1="103.3" y1="778.0" x2="120.0" y2="778.0" stroke="#3c3c3c" stroke-width="1" fill="none" shape-rendering="crispEdges"/>
<line x1="120.0" y1="778.0" x2="158.0" y2="832.6" stroke="#3c3c3c" stroke-width="1" fill="none"/>
<path d="M149.6,825.1 L158.0,832.6 L153.9,822.1" stroke="#444" stroke-width="1" fill="none"/>
<line x1="162.5" y1="766.0" x2="162.5" y2="1039.5" stroke="#3c3c3c" stroke-width="1" fill="none" shape-rendering="crispEdges"/>
<line x1="162.5" y1="774.6" x2="411.8" y2="774.6" stroke="#3c3c3c" stroke-width="1" fill="none" shape-rendering="crispEdges"/>
<path d="M173.5,772.1 L162.5,774.6 L173.5,777.1" stroke="#444" stroke-width="1" fill="none"/>
<path d="M400.8,777.1 L411.8,774.6 L400.8,772.1" stroke="#444" stroke-width="1" fill="none"/>
<line x1="411.8" y1="766.0" x2="411.8" y2="842.0" stroke="#3c3c3c" stroke-width="1" fill="none" shape-rendering="crispEdges"/>
<text transform="translate(273.4,773.0) scale(0.82,1)" x="0" y="0" font-size="13.3" text-anchor="start" fill="#111" stroke="#fff" stroke-width="0.18" textLength="30.2" lengthAdjust="spacing">7.39</text>
<text transform="translate(90.0,818.4) scale(0.82,1)" x="0" y="0" font-size="12.3" text-anchor="end" fill="#111" stroke="#fff" stroke-width="0.13" textLength="29.0" lengthAdjust="spacing">3.89</text>
<line x1="95.7" y1="820.5" x2="262.0" y2="820.5" stroke="#3c3c3c" stroke-width="1" fill="none" shape-rendering="crispEdges"/>
<text transform="translate(11.5,835.0) scale(0.82,1)" x="0" y="0" font-size="13.1" text-anchor="start" fill="#111" stroke="#fff" stroke-width="0.17" textLength="93.3" lengthAdjust="spacing">3-R0.4  <tspan font-size="15.9">±</tspan>0.05</text>
<line x1="7.6" y1="837.2" x2="139.7" y2="837.2" stroke="#3c3c3c" stroke-width="1" fill="none" shape-rendering="crispEdges"/>
<line x1="139.7" y1="837.2" x2="162.5" y2="847.8" stroke="#3c3c3c" stroke-width="1" fill="none"/>
<path d="M152.4,845.8 L162.5,847.8 L154.4,841.4" stroke="#444" stroke-width="1" fill="none"/>
<text transform="translate(90.5,888.8) scale(0.82,1)" x="0" y="0" font-size="13.1" text-anchor="end" fill="#111" stroke="#fff" stroke-width="0.17" textLength="60.4" lengthAdjust="spacing">1.8<tspan font-size="15.9">±</tspan>0.03</text>
<text transform="translate(90.5,898.6) scale(0.82,1)" x="0" y="0" font-size="13.1" text-anchor="end" fill="#111" stroke="#fff" stroke-width="0.17" textLength="67.7" lengthAdjust="spacing">1.52<tspan font-size="15.9">±</tspan>0.05</text>
<line x1="95.7" y1="890.4" x2="226.3" y2="890.4" stroke="#3c3c3c" stroke-width="1" fill="none" shape-rendering="crispEdges"/>
<line x1="95.7" y1="900.5" x2="344.0" y2="900.5" stroke="#3c3c3c" stroke-width="1" fill="none" shape-rendering="crispEdges"/>
<text transform="translate(90.0,949.6) scale(0.82,1)" x="0" y="0" font-size="11.7" text-anchor="end" fill="#111" stroke="#fff" stroke-width="0.09">0</text>
<line x1="95.7" y1="951.9" x2="500.9" y2="951.9" stroke="#3c3c3c" stroke-width="1" fill="none" shape-rendering="crispEdges"/>
<line x1="104.8" y1="820.5" x2="104.8" y2="951.9" stroke="#3c3c3c" stroke-width="1" fill="none" shape-rendering="crispEdges"/>
<path d="M107.3,831.5 L104.8,820.5 L102.3,831.5" stroke="#444" stroke-width="1" fill="none"/>
<path d="M107.3,911.5 L104.8,900.5 L102.3,911.5" stroke="#444" stroke-width="1" fill="none"/>
<circle cx="104.8" cy="951.9" r="1.8" fill="#444"/>
<line x1="197.4" y1="861.5" x2="197.4" y2="1039.5" stroke="#3c3c3c" stroke-width="1" fill="none" shape-rendering="crispEdges"/>
<line x1="394.5" y1="833" x2="394.5" y2="936" stroke="#3c3c3c" stroke-width="1" stroke-dasharray="13 4" shape-rendering="crispEdges"/>
<line x1="394.5" y1="936.0" x2="394.5" y2="1039.5" stroke="#3c3c3c" stroke-width="1" fill="none" shape-rendering="crispEdges"/>
<line x1="364" y1="862.5" x2="465" y2="862.5" stroke="#3c3c3c" stroke-width="1" stroke-dasharray="13 4" shape-rendering="crispEdges"/>
<line x1="380" y1="913.8" x2="470" y2="913.8" stroke="#3c3c3c" stroke-width="1" stroke-dasharray="13 4" shape-rendering="crispEdges"/>
<line x1="470.0" y1="913.8" x2="500.9" y2="913.8" stroke="#3c3c3c" stroke-width="1" fill="none" shape-rendering="crispEdges"/>
<circle cx="394.5" cy="862.5" r="1" fill="#444"/>
<circle cx="394.5" cy="913.8" r="1" fill="#444"/>
<circle cx="197.4" cy="890.4" r="1" fill="#444"/>
<line x1="407.0" y1="842.0" x2="500.9" y2="842.0" stroke="#3c3c3c" stroke-width="1" fill="none" shape-rendering="crispEdges"/>
<line x1="407.0" y1="935.0" x2="500.9" y2="935.0" stroke="#3c3c3c" stroke-width="1" fill="none" shape-rendering="crispEdges"/>
<line x1="492.3" y1="842.0" x2="492.3" y2="952.5" stroke="#3c3c3c" stroke-width="1" fill="none" shape-rendering="crispEdges"/>
<path d="M494.8,853.0 L492.3,842.0 L489.8,853.0" stroke="#444" stroke-width="1" fill="none"/>
<path d="M494.8,924.8 L492.3,913.8 L489.8,924.8" stroke="#444" stroke-width="1" fill="none"/>
<path d="M494.8,946.0 L492.3,935.0 L489.8,946.0" stroke="#444" stroke-width="1" fill="none"/>
<circle cx="492.3" cy="951.9" r="1.8" fill="#444"/>
<text transform="translate(503.6,841.3) scale(0.82,1)" x="0" y="0" font-size="14.3" text-anchor="start" fill="#111" stroke="#fff" stroke-width="0.24" textLength="43.4" lengthAdjust="spacing">2-3.25</text>
<text transform="translate(504.3,912.8) scale(0.82,1)" x="0" y="0" font-size="13.8" text-anchor="start" fill="#111" stroke="#fff" stroke-width="0.21" textLength="65.9" lengthAdjust="spacing">1.12<tspan font-size="16.9">±</tspan>0.03</text>
<text transform="translate(504.3,933.6) scale(0.82,1)" x="0" y="0" font-size="13.8" text-anchor="start" fill="#111" stroke="#fff" stroke-width="0.21" textLength="43.8" lengthAdjust="spacing">2-0.49</text>
<text transform="translate(504.3,949.7) scale(0.82,1)" x="0" y="0" font-size="12.3" text-anchor="start" fill="#111" stroke="#fff" stroke-width="0.13">0</text>
<line x1="457.1" y1="862.5" x2="457.1" y2="913.8" stroke="#3c3c3c" stroke-width="1" fill="none" shape-rendering="crispEdges"/>
<path d="M459.5,872.5 L457.1,862.5 L454.7,872.5" stroke="#444" stroke-width="1" fill="none"/>
<path d="M454.7,903.8 L457.1,913.8 L459.5,903.8" stroke="#444" stroke-width="1" fill="none"/>
<text transform="translate(455.6,910.4) rotate(-90) scale(0.82,1)" x="0" y="0" font-size="12.3" text-anchor="start" fill="#111" stroke="#fff" stroke-width="0.13" textLength="50.9" lengthAdjust="spacing">1.5<tspan font-size="15.0">±</tspan>0.03</text>
<text transform="translate(446.2,788.0) scale(0.82,1)" x="0" y="0" font-size="14.1" text-anchor="start" fill="#111" stroke="#fff" stroke-width="0.23" textLength="99.1" lengthAdjust="spacing">3-Ø0.75<tspan font-size="17.2">±</tspan>0.03</text>
<line x1="430.8" y1="789.2" x2="531.6" y2="789.2" stroke="#3c3c3c" stroke-width="1" fill="none" shape-rendering="crispEdges"/>
<line x1="430.8" y1="789.2" x2="401.8" y2="852.3" stroke="#3c3c3c" stroke-width="1" fill="none"/>
<path d="M404.2,841.3 L401.8,852.3 L408.6,843.3" stroke="#444" stroke-width="1" fill="none"/>
<text transform="translate(450.3,808.5) scale(0.82,1)" x="0" y="0" font-size="14.1" text-anchor="start" fill="#111" stroke="#fff" stroke-width="0.23" textLength="100.0" lengthAdjust="spacing">3-Ø0.69<tspan font-size="17.2">±</tspan>0.05</text>
<line x1="434.2" y1="810.6" x2="538.5" y2="810.6" stroke="#3c3c3c" stroke-width="1" fill="none" shape-rendering="crispEdges"/>
<line x1="434.2" y1="810.6" x2="406.9" y2="849.5" stroke="#3c3c3c" stroke-width="1" fill="none"/>
<path d="M411.3,839.1 L406.9,849.5 L415.2,841.9" stroke="#444" stroke-width="1" fill="none"/>
<path d="M539.2,811.3 H554.9 L547,796.9 Z" stroke="#111" stroke-width="1.3" fill="none"/>
<text transform="translate(547.0,809.5) scale(0.82,1)" x="0" y="0" font-size="8.4" text-anchor="middle" fill="#111">1</text>
<line x1="234.6" y1="951.0" x2="234.6" y2="1039.5" stroke="#3c3c3c" stroke-width="1" fill="none" shape-rendering="crispEdges"/>
<line x1="362.8" y1="951.0" x2="362.8" y2="985.6" stroke="#3c3c3c" stroke-width="1" fill="none" shape-rendering="crispEdges"/>
<line x1="335.5" y1="863.0" x2="335.5" y2="1094.5" stroke="#3c3c3c" stroke-width="1" fill="none" shape-rendering="crispEdges"/>
<line x1="234.6" y1="978.0" x2="362.8" y2="978.0" stroke="#3c3c3c" stroke-width="1" fill="none" shape-rendering="crispEdges"/>
<path d="M245.6,975.5 L234.6,978.0 L245.6,980.5" stroke="#444" stroke-width="1" fill="none"/>
<path d="M351.8,980.5 L362.8,978.0 L351.8,975.5" stroke="#444" stroke-width="1" fill="none"/>
<text transform="translate(297.6,976.8) scale(0.82,1)" x="0" y="0" font-size="13.3" text-anchor="middle" fill="#111" stroke="#fff" stroke-width="0.18" textLength="19.9" lengthAdjust="spacing">3.8</text>
<line x1="162.3" y1="1031.3" x2="394.5" y2="1031.3" stroke="#3c3c3c" stroke-width="1" fill="none" shape-rendering="crispEdges"/>
<path d="M172.6,1028.9 L162.3,1031.3 L172.6,1033.7" stroke="#444" stroke-width="1" fill="none"/>
<circle cx="197.4" cy="1031.3" r="1.8" fill="#444"/>
<path d="M224.3,1033.7 L234.6,1031.3 L224.3,1028.9" stroke="#444" stroke-width="1" fill="none"/>
<path d="M384.2,1033.7 L394.5,1031.3 L384.2,1028.9" stroke="#444" stroke-width="1" fill="none"/>
<text transform="translate(159.7,1046.1) rotate(-90) scale(0.82,1)" x="0" y="0" font-size="11.7" text-anchor="end" fill="#111" stroke="#fff" stroke-width="0.09" textLength="25.6" lengthAdjust="spacing">1.05</text>
<text transform="translate(196.2,1046.0) rotate(-90) scale(0.82,1)" x="0" y="0" font-size="11.7" text-anchor="end" fill="#111" stroke="#fff" stroke-width="0.09">0</text>
<text transform="translate(232.7,1046.0) rotate(-90) scale(0.82,1)" x="0" y="0" font-size="11.7" text-anchor="end" fill="#111" stroke="#fff" stroke-width="0.09" textLength="15.5" lengthAdjust="spacing">1.1</text>
<text transform="translate(334.4,1044.4) rotate(-90) scale(0.82,1)" x="0" y="0" font-size="14.1" text-anchor="end" fill="#111" stroke="#fff" stroke-width="0.23" textLength="62.0" lengthAdjust="spacing">0.6<tspan font-size="17.2">±</tspan>0.02</text>
<text transform="translate(393.5,1046.5) rotate(-90) scale(0.82,1)" x="0" y="0" font-size="14.1" text-anchor="end" fill="#111" stroke="#fff" stroke-width="0.23" textLength="69.5" lengthAdjust="spacing">5.84<tspan font-size="17.2">±</tspan>0.04</text>
<line x1="311.0" y1="880.5" x2="344.0" y2="880.5" stroke="#3c3c3c" stroke-width="1" fill="none" shape-rendering="crispEdges"/>
<path d="M333.1,869.5 L335.5,880.5 L337.9,869.5" stroke="#444" stroke-width="1" fill="none"/>
<path d="M337.9,911.5 L335.5,900.5 L333.1,911.5" stroke="#444" stroke-width="1" fill="none"/>
<text transform="translate(514.7,720.1) scale(0.87,1)" x="0" y="0" font-size="22.3" text-anchor="start" fill="#111" stroke="#fff" stroke-width="0.50" textLength="139.2" lengthAdjust="spacing">3-2.04<tspan font-size="27.3">±</tspan>0.05</text>
<line x1="514.7" y1="723.8" x2="762.5" y2="723.8" stroke="#3c3c3c" stroke-width="1" fill="none" shape-rendering="crispEdges"/>
<path d="M660.2,720.2 L643.2,723.8 L660.2,727.4" stroke="#444" stroke-width="1" fill="none"/>
<path d="M745.5,727.4 L762.5,723.8 L745.5,720.2" stroke="#444" stroke-width="1" fill="none"/>
<line x1="643.2" y1="710.2" x2="643.2" y2="805.6" stroke="#3c3c3c" stroke-width="1" fill="none" shape-rendering="crispEdges"/>
<line x1="762.3" y1="710.2" x2="762.3" y2="859.0" stroke="#3c3c3c" stroke-width="1" fill="none" shape-rendering="crispEdges"/>
<path d="M643.1,814.2 Q643.1,812.2 645.1,812.2 H698.8 V818.7 L704.9,824.8 V863.8 H707" stroke="#000" stroke-width="2.2" fill="none"/>
<path d="M643.1,814.2 V1036.5 Q643.1,1038.5 645.1,1038.5 H698.3 V1032.4 L704.9,1026 V987.6 H698.8" stroke="#000" stroke-width="2.2" fill="none"/>
<path d="M704.9,987.6 V985.8 H707.9 V957" stroke="#000" stroke-width="2.2" fill="none"/>
<path d="M649.2,840 V821 Q649.2,819.2 651,819.2 H676 L695,826.5 Q699.3,828.5 699.3,832 V862.5" stroke="#000" stroke-width="1.4" fill="none"/>
<path d="M676,819.2 V824.5 H668.5 Q666.4,824.5 666.4,826.6 V840 H643.1" stroke="#000" stroke-width="1.4" fill="none"/>
<line x1="644.8" y1="819.0" x2="644.8" y2="840.0" stroke="#000" stroke-width="1" shape-rendering="crispEdges"/>
<line x1="651.0" y1="822.5" x2="673.0" y2="822.5" stroke="#000" stroke-width="0.9" shape-rendering="crispEdges"/>
<line x1="651.0" y1="837.0" x2="664.0" y2="837.0" stroke="#000" stroke-width="0.9" shape-rendering="crispEdges"/>
<path d="M693.7,812.2 V818.7 H698.8" stroke="#000" stroke-width="1" fill="none"/>
<path d="M649.2,1014 V1029 Q649.2,1031 651,1031 H680.6 L695.5,1025 Q699.5,1023 699.5,1019 V989" stroke="#000" stroke-width="1.4" fill="none"/>
<path d="M680.6,1031 V1026 H668.5 Q666.4,1026 666.4,1024 V1014 H643.1" stroke="#000" stroke-width="1.4" fill="none"/>
<line x1="644.8" y1="1014.0" x2="644.8" y2="1032.0" stroke="#000" stroke-width="1" shape-rendering="crispEdges"/>
<line x1="651.0" y1="1028.0" x2="676.0" y2="1028.0" stroke="#000" stroke-width="0.9" shape-rendering="crispEdges"/>
<path d="M693.7,1038.5 V1032.4 H698.3" stroke="#000" stroke-width="1" fill="none"/>
<path d="M643.1,849.7 H671.5 Q673.8,849.7 673.8,852 V1009.6 H643.1" stroke="#000" stroke-width="2.2" fill="none"/>
<line x1="643.1" y1="872.3" x2="673.8" y2="872.3" stroke="#333" stroke-width="0.9" shape-rendering="crispEdges"/>
<line x1="643.1" y1="902.0" x2="673.8" y2="902.0" stroke="#333" stroke-width="0.9" shape-rendering="crispEdges"/>
<line x1="643.1" y1="907.4" x2="673.8" y2="907.4" stroke="#000" stroke-width="2" shape-rendering="crispEdges"/>
<line x1="654.4" y1="908.0" x2="654.4" y2="1009.6" stroke="#000" stroke-width="1.6" shape-rendering="crispEdges"/>
<line x1="654.4" y1="1004.6" x2="673.8" y2="1004.6" stroke="#333" stroke-width="0.9" shape-rendering="crispEdges"/>
<path d="M655.8,919.3 H657.5 Q659.3,919.3 659.3,921 V945.3 Q659.3,947 657.5,947 H655.8" stroke="#000" stroke-width="1.4" fill="none"/>
<path d="M655.8,969.1 H657.5 Q659.3,969.1 659.3,971 V995.8 Q659.3,997.5 657.5,997.5 H655.8" stroke="#000" stroke-width="1.4" fill="none"/>
<path d="M706.8,866 L760,866.7 Q761.7,866.7 761.7,868.5 V904.5 Q761.7,906.2 760,906.2 L706.8,907.2 V866" stroke="#000" stroke-width="2.2" fill="none"/>
<path d="M692,912 V904.5 Q692,902.5 694,902.5 H704.5 V911" stroke="#000" stroke-width="1.4" fill="none"/>
<line x1="698.0" y1="903.0" x2="698.0" y2="911.0" stroke="#000" stroke-width="1" shape-rendering="crispEdges"/>
<path d="M673.8,912.3 L760,914.2 Q761.7,914.2 761.7,916 V953 Q761.7,954.7 760,954.7 L673.8,957.5" stroke="#000" stroke-width="2.2" fill="none"/>
<path d="M707.9,957 L760,955.8 Q761.7,955.8 761.7,957.5 V991.6 Q761.7,993.4 760,993.4 L704.9,994.4" stroke="#000" stroke-width="2.2" fill="none"/>
<rect x="4" y="1006" width="1.5" height="2" fill="#888"/>
</svg></body></html>
